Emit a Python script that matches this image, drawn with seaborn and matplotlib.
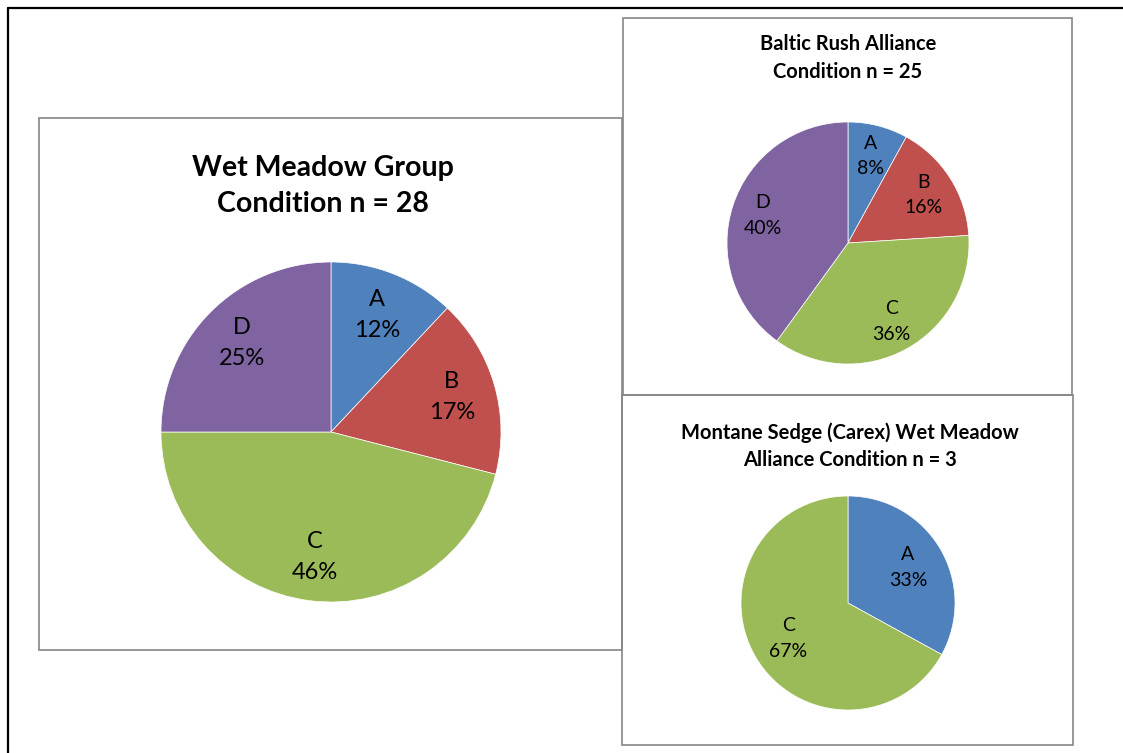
import numpy as np
import matplotlib
matplotlib.use("Agg")
import matplotlib.pyplot as plt
from matplotlib.patches import Rectangle
from matplotlib.lines import Line2D
import seaborn as sns

# ---- data ----
wm_title = "Wet Meadow Group\nCondition n = 28"
wm_cats = ["A", "B", "C", "D"]
wm_pct = [12, 17, 46, 25]

baltic_title = "Baltic Rush Alliance\nCondition n = 25"
baltic_cats = ["A", "B", "C", "D"]
baltic_pct = [8, 16, 36, 40]

montane_title = "Montane Sedge (Carex) Wet Meadow\nAlliance Condition n = 3"
montane_cats = ["A", "C"]
montane_pct = [33, 67]

cat_order = ["A", "B", "C", "D"]
cat_colors = ["#4F81BD", "#C0504D", "#9BBB59", "#8064A2"]

sns.set_theme(style="white")
plt.rcParams["font.family"] = ["Lato", "DejaVu Sans"]
palette = dict(zip(cat_order, sns.color_palette(cat_colors)))

W, H = 1123, 753
fig = plt.figure(figsize=(W / 100, H / 100), dpi=100)
fig.patch.set_facecolor("white")


def fx(x):
    return x / W


def fy(y):
    return 1 - y / H


# outer frame (left and top edges only)
fig.add_artist(Line2D([fx(7.5), fx(7.5)], [fy(7.5), fy(H + 5)], color="black", lw=1.6,
                      transform=fig.transFigure))
fig.add_artist(Line2D([fx(7.5), fx(W + 5)], [fy(7.5), fy(7.5)], color="black", lw=1.6,
                      transform=fig.transFigure))


def box(x0, y0, x1, y1):
    fig.add_artist(Rectangle((fx(x0), fy(y1)), fx(x1 - x0), (y1 - y0) / H,
                             transform=fig.transFigure, facecolor="none",
                             edgecolor="#868686", lw=1.2))


box(39, 118, 622, 650)
box(623, 18, 1072, 395)
box(622, 395, 1073, 745)


def pie(cx, cy, r, cats, vals, title, tx, ty, tsize, lsize, ldist, lsp, tsp):
    ax = fig.add_axes([fx(cx - r), fy(cy + r), fx(2 * r), 2 * r / H])
    cols = [palette[c] for c in cats]
    wedges, _ = ax.pie(vals, colors=cols, startangle=90, counterclock=False,
                       radius=1.0, wedgeprops=dict(edgecolor="white", linewidth=0.5))
    for w, c, v in zip(wedges, cats, vals):
        ang = np.deg2rad((w.theta1 + w.theta2) / 2)
        ax.text(ldist * np.cos(ang), ldist * np.sin(ang), f"{c}\n{v}%",
                ha="center", va="center", fontsize=lsize, color="black",
                linespacing=lsp)
    ax.set_xlim(-1, 1)
    ax.set_ylim(-1, 1)
    ax.set_aspect("auto")
    ax.axis("off")
    fig.text(fx(tx), fy(ty), title, ha="center", va="center", fontsize=tsize,
             fontweight="bold", color="black", linespacing=tsp)


pie(331, 432, 170, wm_cats, wm_pct, wm_title, 323, 186, 20.5, 17, 0.74, 1.62, 1.45)
pie(848, 243, 121, baltic_cats, baltic_pct, baltic_title, 848, 58, 14.5, 14, 0.74, 1.6, 1.44)
pie(848, 603, 107, montane_cats, montane_pct, montane_title, 850, 446, 14.5, 14, 0.65, 1.6, 1.44)

fig.savefig("out.png", dpi=100, facecolor="white")
